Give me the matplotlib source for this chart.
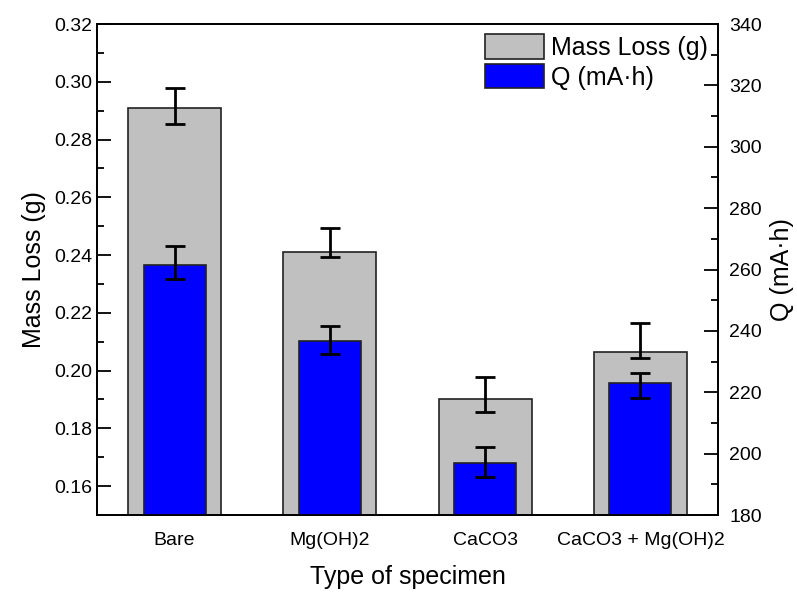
import numpy as np
import matplotlib
matplotlib.use("Agg")
from matplotlib import pyplot as plt
from matplotlib.ticker import MultipleLocator, FormatStrFormatter

plt.rcParams['font.family'] = ['Liberation Sans', 'DejaVu Sans']

# data
specimens = ["Bare", "Mg(OH)2", "CaCO3", "CaCO3 + Mg(OH)2"]
mass_loss = [0.2910, 0.2412, 0.1901, 0.2063]
mass_err_lo = [0.0056, 0.0018, 0.0045, 0.0020]
mass_err_hi = [0.0067, 0.0081, 0.0078, 0.0102]
charge = [261.5, 236.8, 196.8, 223.1]
charge_err_lo = [4.6, 4.3, 4.5, 5.1]
charge_err_hi = [6.1, 4.9, 5.4, 3.2]

x = np.arange(1, len(specimens) + 1)

fig = plt.figure(figsize=(7.97, 5.93), dpi=100)
ax1 = fig.add_axes([0.1217, 0.1315, 0.7792, 0.828])
ax2 = ax1.twinx()

errstyle = dict(ecolor='black', elinewidth=2, capsize=7, capthick=2)

b1 = ax1.bar(x, mass_loss, width=0.6, color='#c0c0c0', edgecolor='#222222',
             linewidth=1.2, zorder=2)
ax1.errorbar(x, mass_loss, yerr=[mass_err_lo, mass_err_hi], fmt='none',
             zorder=3, **errstyle)

b2 = ax2.bar(x, charge, width=0.4, color='#0000ff', edgecolor='#222222',
             linewidth=1.2, zorder=2)
ax2.errorbar(x, charge, yerr=[charge_err_lo, charge_err_hi], fmt='none',
             zorder=3, **errstyle)

ax1.set_xlim(0.5, 4.5)
ax1.set_ylim(0.15, 0.32)
ax2.set_ylim(180, 340)

ax1.yaxis.set_major_locator(MultipleLocator(0.02))
ax1.yaxis.set_minor_locator(MultipleLocator(0.01))
ax1.yaxis.set_major_formatter(FormatStrFormatter('%.2f'))
ax2.yaxis.set_major_locator(MultipleLocator(20))
ax2.yaxis.set_minor_locator(MultipleLocator(10))

ax1.set_xticks(x)
ax1.set_xticklabels(specimens, fontsize=14)
ax1.tick_params(axis='x', direction='in', length=0, pad=12)
# x tick marks from the top axes so they sit over the blue bars
ax2.xaxis.set_visible(True)
ax2.tick_params(axis='x', direction='in', length=8, width=1.5,
                labelbottom=False, bottom=True, top=False)

ax1.tick_params(axis='y', which='major', direction='in', length=10, width=1.3,
                labelsize=14)
ax1.tick_params(axis='y', which='minor', direction='in', length=5, width=1.3)
ax2.tick_params(axis='y', which='major', direction='in', length=10, width=1.3,
                labelsize=14, pad=8)
ax2.tick_params(axis='y', which='minor', direction='in', length=5, width=1.3)

for ax in (ax1, ax2):
    for s in ax.spines.values():
        s.set_linewidth(1.3)

ax1.set_ylabel('Mass Loss (g)', fontsize=18, labelpad=6)
ax2.set_ylabel('Q (mA\u00b7h)', fontsize=18, labelpad=6)
ax1.set_xlabel('Type of specimen', fontsize=18, labelpad=12)

ax2.legend([b1, b2], ['Mass Loss (g)', 'Q (mA\u00b7h)'], loc='upper right',
           fontsize=18, frameon=False, handlelength=2.35, handleheight=1.15,
           handletextpad=0.3, labelspacing=0.15, borderaxespad=0.2,
           borderpad=0.2)

fig.savefig('out.png', dpi=100)
